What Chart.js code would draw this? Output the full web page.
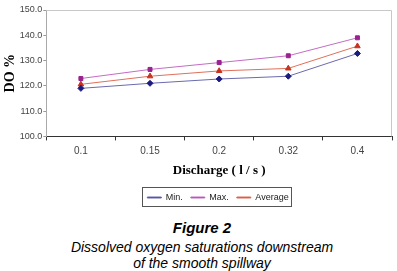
<!DOCTYPE html>
<html>
<head>
<meta charset="utf-8">
<script src="https://cdn.jsdelivr.net/npm/chart.js@4"></script>
<style>
  body { margin: 0; background: #fff; width: 397px; height: 271px; overflow: hidden; }
  #wrap { position: absolute; left: 0; top: 0; width: 397px; height: 215px; }
  .cap { position: absolute; left: 0; width: 404px; text-align: center; font-family: "Liberation Sans", Arial, sans-serif; font-style: italic; font-size: 14px; color: #000; }
</style>
</head>
<body>
<div id="wrap"><canvas id="chart"></canvas></div>
<div class="cap" style="top:219px; font-weight:bold; font-size:15px;">Figure 2</div>
<div class="cap" style="top:239px;">Dissolved oxygen saturations downstream</div>
<div class="cap" style="top:255px;">of the smooth spillway</div>
<script>
// values
const discharge = ['0.1', '0.15', '0.2', '0.32', '0.4'];
const minDO = [119.0, 121.0, 122.7, 123.8, 132.8];
const maxDO = [122.9, 126.5, 129.2, 131.9, 139.0];
const avgDO = [120.6, 123.8, 125.9, 126.9, 135.7];

// grey frame round plot area + box round legend
const frame = {
    id: 'frame',
    afterLayout(chart) {
        // legend sits a bit right of centre in the original
        chart.legend.left += 20;
        chart.legend.right += 20;
    },
    afterDraw(chart) {
        const ctx = chart.ctx;
        const a = chart.chartArea;
        ctx.save();
        ctx.strokeStyle = '#c8c8c8';
        ctx.lineWidth = 1;
        ctx.beginPath();
        ctx.moveTo(a.left, a.top + 0.5);
        ctx.lineTo(a.right - 0.5, a.top + 0.5);
        ctx.lineTo(a.right - 0.5, a.bottom);
        ctx.stroke();
        const hb = chart.legend.legendHitBoxes;
        if (hb && hb.length) {
            let l = Infinity, r = -Infinity, t = Infinity, b = -Infinity;
            hb.forEach(h => {
                l = Math.min(l, h.left); r = Math.max(r, h.left + h.width);
                t = Math.min(t, h.top); b = Math.max(b, h.top + h.height);
            });
            ctx.strokeStyle = '#555';
            ctx.strokeRect(Math.round(l - 5) + 0.5, Math.round(t - 6) + 0.5, Math.round(r - l + 8), Math.round(b - t + 10));
        }
        ctx.restore();
    }
};

new Chart(document.getElementById('chart'), {
    type: 'line',
    data: {
        labels: discharge,
        datasets: [{
            label: 'Min.',
            data: minDO,
            borderColor: '#6a6aae',
            backgroundColor: '#1a1a80',
            pointBorderColor: '#1a1a80',
            pointStyle: 'rectRot',
            pointRadius: 3,
            borderWidth: 1
        }, {
            label: 'Max.',
            data: maxDO,
            borderColor: '#c46cc4',
            backgroundColor: '#99228f',
            pointBorderColor: '#99228f',
            pointStyle: 'rect',
            pointRadius: 2.8,
            borderWidth: 1
        }, {
            label: 'Average',
            data: avgDO,
            borderColor: '#e0705a',
            backgroundColor: '#c8321e',
            pointBorderColor: '#c8321e',
            pointStyle: 'triangle',
            pointRadius: 3.2,
            borderWidth: 1
        }]
    },
    options: {
        responsive: true,
        maintainAspectRatio: false,
        animation: false,
        layout: { padding: { left: 2, right: 3, top: 10, bottom: 3 } },
        plugins: {
            legend: {
                position: 'bottom',
                labels: {
                    boxWidth: 14,
                    boxHeight: 1,
                    padding: 8,
                    color: '#222',
                    font: { family: '"Liberation Sans", Arial, sans-serif', size: 9 }
                }
            },
            tooltip: { enabled: false }
        },
        scales: {
            x: {
                offset: true,
                grid: { offset: true, drawOnChartArea: false, tickLength: 4, color: '#333' },
                border: { color: '#333' },
                ticks: { color: '#444', padding: 5, font: { family: '"Liberation Sans", Arial, sans-serif', size: 10 } },
                title: {
                    display: true,
                    text: 'Discharge ( l / s )',
                    color: '#000',
                    padding: { top: 0, bottom: 7 },
                    font: { family: '"Liberation Serif", "Times New Roman", serif', size: 13, weight: 'bold' }
                }
            },
            y: {
                min: 100,
                max: 150,
                ticks: {
                    stepSize: 10,
                    color: '#444',
                    padding: 1,
                    font: { family: '"Liberation Sans", Arial, sans-serif', size: 9 },
                    callback: v => v.toFixed(1)
                },
                grid: { drawOnChartArea: false, tickLength: 3, color: '#999' },
                border: { color: '#aaa' },
                title: {
                    display: true,
                    text: 'DO %',
                    color: '#000',
                    padding: { top: 0, bottom: 0 },
                    font: { family: '"Liberation Serif", "Times New Roman", serif', size: 14, weight: 'bold' }
                }
            }
        }
    },
    plugins: [frame]
});
</script>
</body>
</html>
